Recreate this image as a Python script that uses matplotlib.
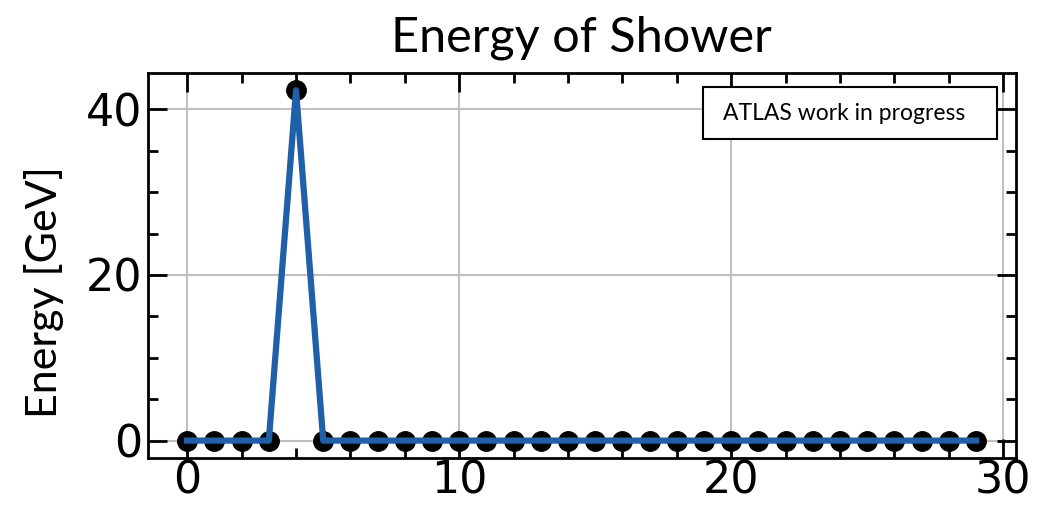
import matplotlib.pyplot as plt
from matplotlib.patches import Rectangle
from matplotlib.ticker import MultipleLocator

# layer index and deposited energy per layer
layers = list(range(30))
energy = [0, 0, 0, 0, 42.3] + [0] * 25

fig = plt.figure(figsize=(10.48, 5.09), dpi=100)
ax = fig.add_axes([0.141, 0.1, 0.828, 0.757])

ax.plot(layers, energy, 'o', color='black', markersize=14, zorder=2)
ax.plot(layers, energy, '-', color='#1f60a8', linewidth=4.5, zorder=3)

ax.set_title('Energy of Shower', fontsize=35, family='Lato', pad=15)
ax.set_ylabel('Energy [GeV]', fontsize=31, family='Lato')
ax.yaxis.set_label_coords(-0.097, 0.43)

ax.xaxis.set_major_locator(MultipleLocator(10))
ax.xaxis.set_minor_locator(MultipleLocator(2))
ax.yaxis.set_major_locator(MultipleLocator(20))
ax.yaxis.set_minor_locator(MultipleLocator(5))
ax.tick_params(which='both', direction='in', top=True, right=True, width=2)
ax.tick_params(which='major', length=14, labelsize=32, pad=4)
ax.tick_params(axis='x', which='major', pad=1)
ax.tick_params(which='minor', length=7)
for s in ax.spines.values():
    s.set_linewidth(2)

ax.grid(True, which='major', color='#c0c0c0', linewidth=1.5, zorder=0)
ax.set_axisbelow(True)

# label box in the upper right corner
ax.add_patch(Rectangle((0.640, 0.827), 0.339, 0.135, transform=ax.transAxes,
                       facecolor='white', edgecolor='black', linewidth=1.5, zorder=5))
ax.text(0.663, 0.894, 'ATLAS work in progress', transform=ax.transAxes,
        ha='left', va='center', fontsize=16.5, family='Lato', zorder=6)

fig.savefig('out.png', dpi=100)
